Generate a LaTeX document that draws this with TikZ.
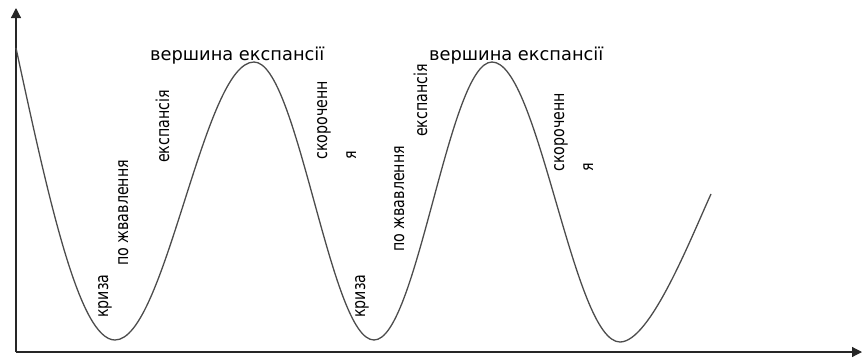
\documentclass[tikz,border=0pt]{standalone}
\usepackage{fontspec}
\setmainfont{DejaVu Sans}
\newfontfamily\vertfont{DejaVu Sans}[FakeStretch=0.8]
\usepackage{tikz}
\usetikzlibrary{arrows.meta}

\begin{document}
\begin{tikzpicture}[
  x=1pt, y=-1pt,
  axis/.style  ={-{Triangle[length=10pt,width=10pt]}, line width=1.2pt, draw=black!85},
  wave/.style  ={line width=1.3pt, draw=black!70},
  peak/.style  ={anchor=base west, inner sep=0pt, font=\fontsize{17.8}{21}\selectfont},
  phase/.style ={rotate=90, anchor=base west, inner sep=0pt, align=left,
                 font=\vertfont\fontsize{17.8}{21}\selectfont},
]
\useasboundingbox (0,0) rectangle (862,359);

% Axes
\coordinate (origin) at (16,352);
\coordinate (ytop)   at (16,8);
\coordinate (xend)   at (862,352);
\draw[axis] (origin) -- (ytop);
\draw[axis] (origin) -- (xend);

% Cycle points (extremes and middles)
\coordinate (start) at (16,48);
\coordinate (min1)  at (115,340);
\coordinate (mid1)  at (184.5,201);
\coordinate (max1)  at (254,62);
\coordinate (mid2)  at (314,201);
\coordinate (min2)  at (374,340);
\coordinate (mid3)  at (433,201);
\coordinate (max2)  at (492,62);
\coordinate (mid4)  at (556,202);
\coordinate (min3)  at (620,342);
\coordinate (stop)  at (711,194);

% Business cycle curve
\draw[wave] (start) sin (min1) cos (mid1) sin (max1) cos (mid2) sin (min2)
  cos (mid3) sin (max2) cos (mid4) sin (min3)
  .. controls (650,342) and (690,240) .. (stop);

% Phase labels, first cycle
\node[phase] (crisis1)   at (108,318) {криза};
\node[phase] (revival1)  at (128,266) {по жвавлення};
\node[phase] (expand1)   at (169,163) {експансія};
\node[peak]  (peak1)     at (150,60)  {вершина експансії};
\node[phase] (shrink1)   at (356,160) {скороченн\\[8pt]я};

% Phase labels, second cycle
\node[phase] (crisis2)   at (365,318) {криза};
\node[phase] (revival2)  at (404,252) {по жвавлення};
\node[phase] (expand2)   at (427,137) {експансія};
\node[peak]  (peak2)     at (429,60)  {вершина експансії};
\node[phase] (shrink2)   at (593,172) {скороченн\\[8pt]я};

\end{tikzpicture}
\end{document}
